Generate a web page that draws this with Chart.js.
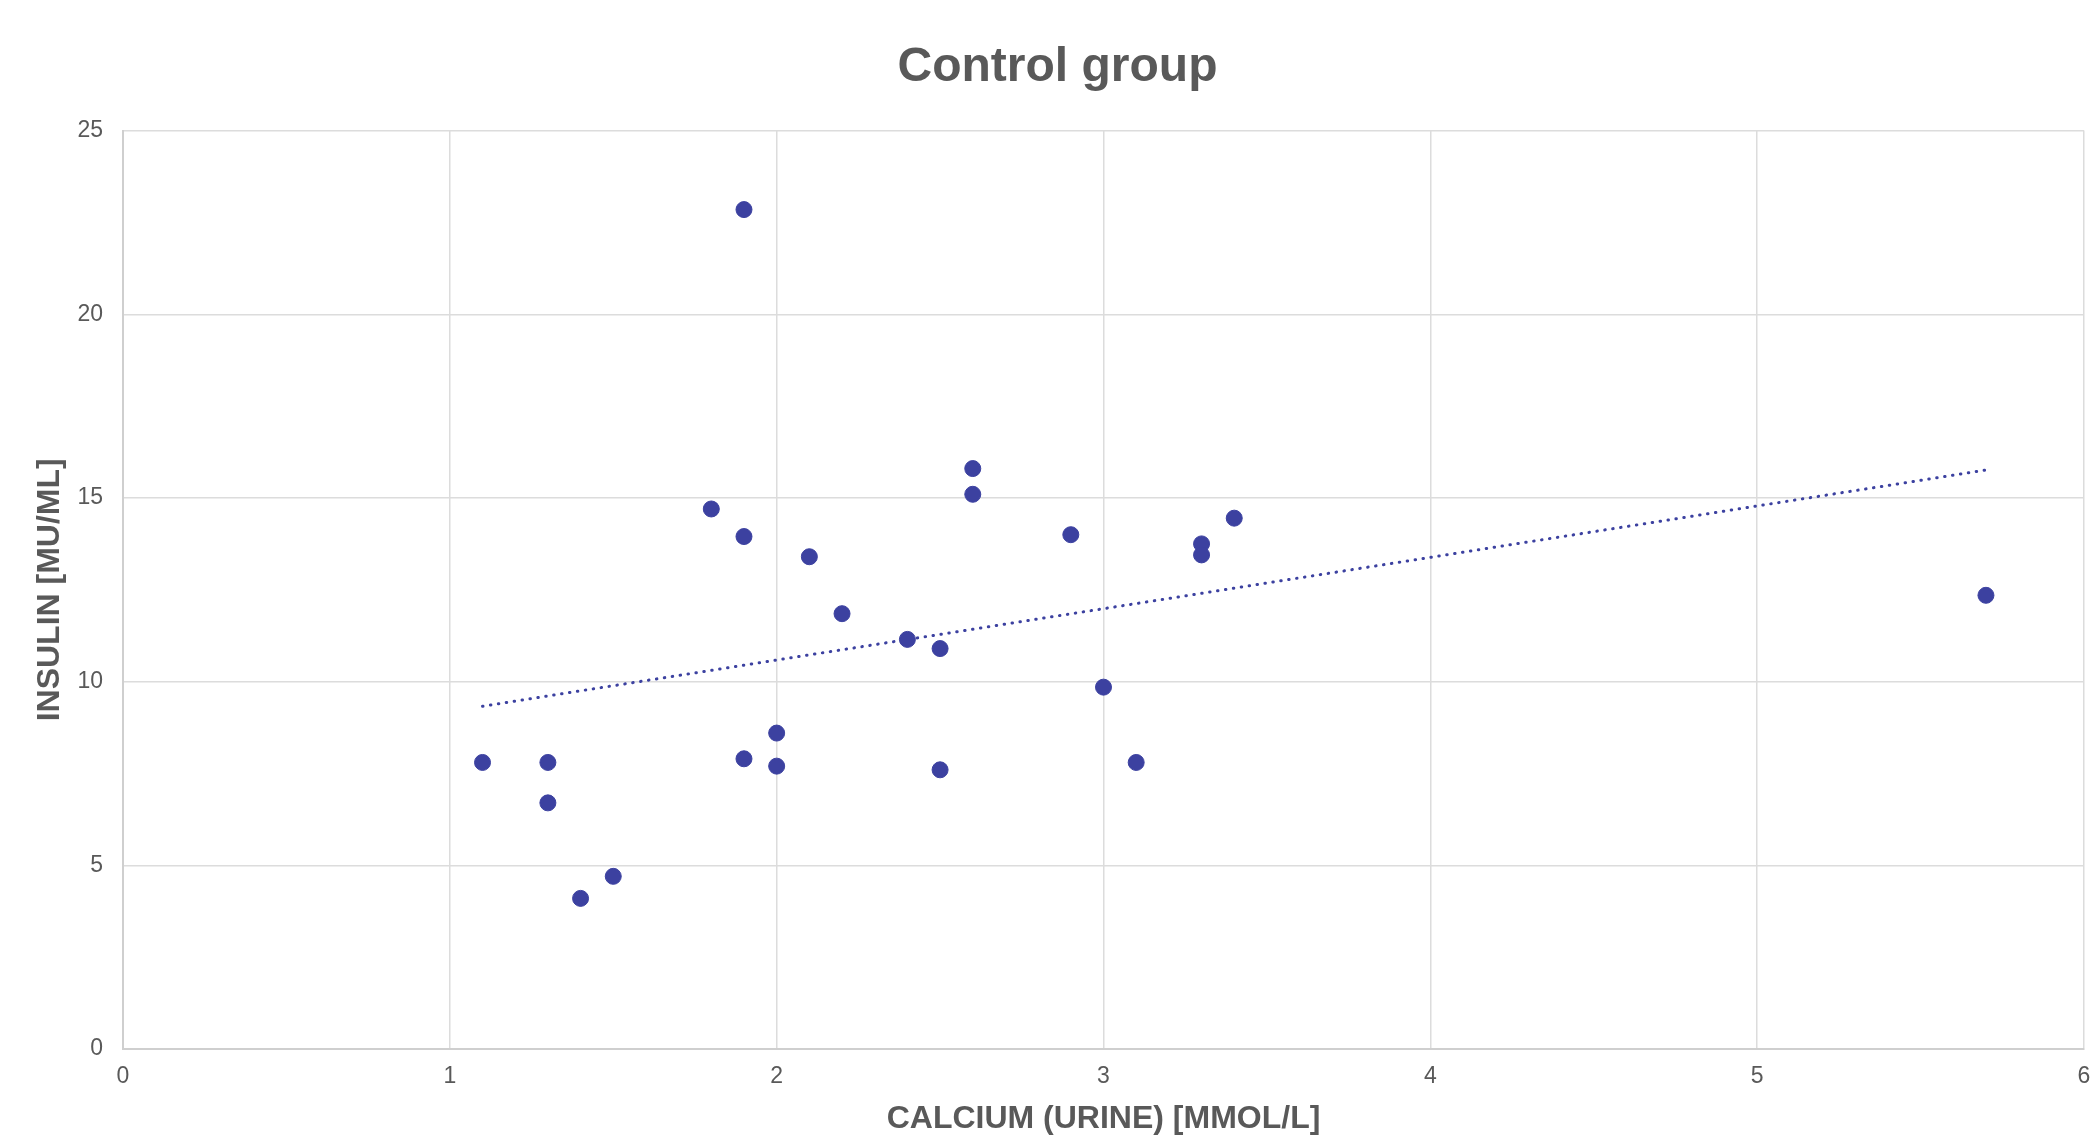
<!DOCTYPE html>
<html lang="en">
<head>
  <meta charset="UTF-8" />
  <title>Control group</title>
  <script src="https://cdn.jsdelivr.net/npm/chart.js"></script>
  <style>
    html, body {
      margin: 0;
      padding: 0;
      background: #ffffff;
      overflow: hidden;
    }
    .chart-box {
      width: 2097px;
      height: 1138px;
    }
  </style>
</head>
<body>
  <div class="chart-box">
    <canvas id="scatter"></canvas>
  </div>

  <script>
    // calcium (urine) vs insulin
    const calcium = [1.1, 1.3, 1.3, 1.4, 1.5, 1.8, 1.9, 1.9, 1.9, 2.0, 2.0, 2.1, 2.2,
                     2.4, 2.5, 2.5, 2.6, 2.6, 2.9, 3.0, 3.1, 3.3, 3.3, 3.4, 5.7];
    const insulin = [7.8, 7.8, 6.7, 4.1, 4.7, 14.7, 22.85, 13.95, 7.9, 8.6, 7.7, 13.4, 11.85,
                     11.15, 10.9, 7.6, 15.8, 15.1, 14.0, 9.85, 7.8, 13.75, 13.45, 14.45, 12.35];

    // linear trend line end points
    const trendX = [1.1, 5.7];
    const trendY = [9.33, 15.76];

    const xTicks = [0, 1, 2, 3, 4, 5, 6];
    const yTicks = [0, 5, 10, 15, 20, 25];

    const grey = "#595959";
    const markColor = "#3c41a0";
    const fontFam = "'Liberation Sans', Arial, sans-serif";

    const points = calcium.map((c, i) => ({ x: c, y: insulin[i] }));
    const trend = trendX.map((t, i) => ({ x: t, y: trendY[i] }));

    new Chart(document.getElementById("scatter"), {
      type: "scatter",
      data: {
        datasets: [
          {
            label: "Control group",
            data: points,
            backgroundColor: markColor,
            borderColor: markColor,
            pointRadius: 8,
            pointHoverRadius: 8,
            order: 1
          },
          {
            label: "Trend",
            type: "line",
            data: trend,
            showLine: true,
            borderColor: markColor,
            borderWidth: 3,
            borderDash: [0.5, 7.5],
            borderCapStyle: "round",
            pointRadius: 0,
            fill: false,
            order: 2
          }
        ]
      },
      options: {
        responsive: true,
        maintainAspectRatio: false,
        animation: false,
        layout: {
          padding: { left: 31, right: 13, top: 0, bottom: 0 }
        },
        plugins: {
          legend: { display: false },
          tooltip: { enabled: false },
          title: {
            display: true,
            text: "Control group",
            color: grey,
            font: { family: fontFam, size: 48, weight: "bold" },
            padding: { top: 39, bottom: 34 }
          }
        },
        scales: {
          x: {
            type: "linear",
            min: 0,
            max: 6,
            afterBuildTicks: axis => { axis.ticks = xTicks.map(v => ({ value: v })); },
            afterFit: axis => { axis.height = 89; axis.paddingRight = 0; },
            ticks: {
              color: grey,
              padding: 14,
              font: { family: fontFam, size: 23 }
            },
            grid: { color: "#dcdcdc", lineWidth: 1.5, drawTicks: false },
            border: { color: "#cfcfcf", width: 2 },
            title: {
              display: true,
              text: "CALCIUM (URINE) [MMOL/L]",
              color: grey,
              font: { family: fontFam, size: 32, weight: "bold" },
              padding: { top: 0, bottom: 0 }
            }
          },
          y: {
            type: "linear",
            min: 0,
            max: 25,
            afterBuildTicks: axis => { axis.ticks = yTicks.map(v => ({ value: v })); },
            afterFit: axis => { axis.width = 92; },
            ticks: {
              color: grey,
              padding: 20,
              font: { family: fontFam, size: 23 }
            },
            grid: { color: "#dcdcdc", lineWidth: 1.5, drawTicks: false },
            border: { color: "#cfcfcf", width: 2 },
            title: {
              display: true,
              text: "INSULIN [MU/ML]",
              color: grey,
              font: { family: fontFam, size: 32, weight: "bold" },
              padding: { top: 0, bottom: 10 }
            }
          }
        }
      }
    });
  </script>
</body>
</html>
